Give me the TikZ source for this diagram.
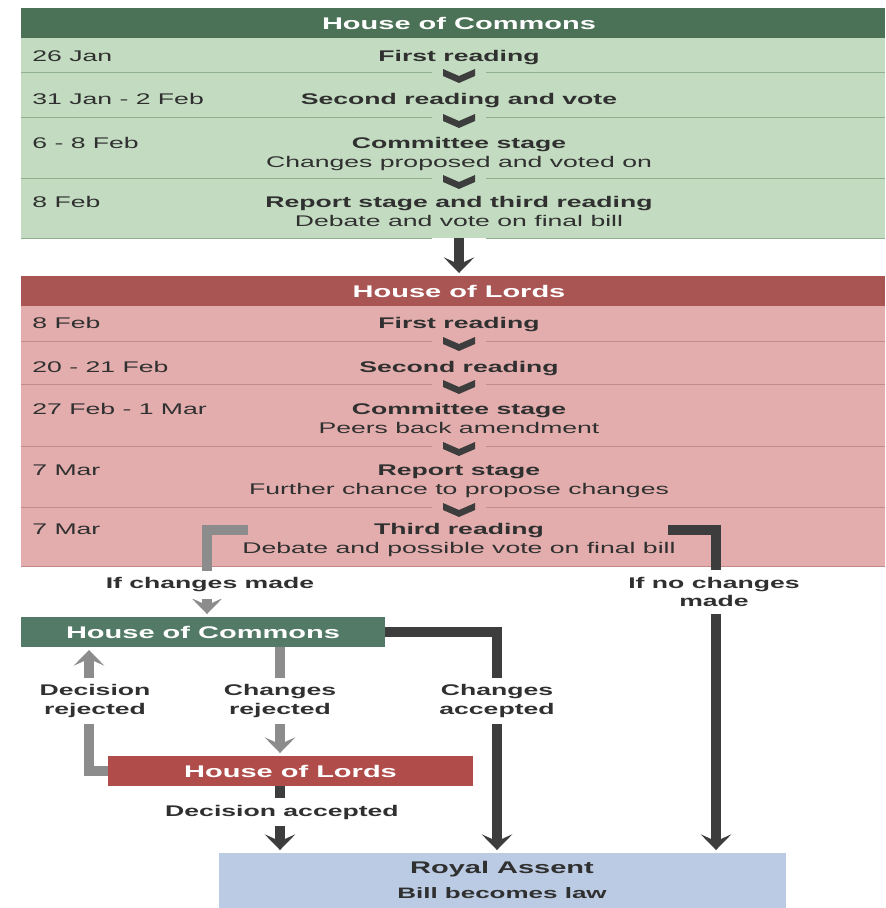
\documentclass[tikz,border=0pt]{standalone}
\usepackage{fontspec}
\setmainfont{Liberation Sans}[FakeStretch=1.72]
\usepackage{xcolor}
\usepackage{tikz}
\usetikzlibrary{calc}
\usetikzlibrary{arrows.meta}

\definecolor{commonsdark}{HTML}{4B7257}
\definecolor{commonslight}{HTML}{C3DCC1}
\definecolor{commonsrule}{HTML}{8FAF8F}
\definecolor{commonsbox}{HTML}{527A66}
\definecolor{lordsdark}{HTML}{A95553}
\definecolor{lordslight}{HTML}{E3ADAD}
\definecolor{lordsrule}{HTML}{C48A8A}
\definecolor{lordsbox}{HTML}{B04C4A}
\definecolor{assent}{HTML}{BACBE3}
\definecolor{arrowdark}{HTML}{3D3D3D}
\definecolor{arrowgrey}{HTML}{8C8C8C}
\definecolor{ink}{HTML}{303030}

\begin{document}
\begin{tikzpicture}[x=0.02cm,y=-0.02cm]%%passage of the bill
                \tikzstyle{date}   = [anchor=west, inner sep=0pt, text=ink, font=\fontsize{8.8}{10.5}\selectfont, text height=6.3pt, text depth=0pt]
                \tikzstyle{stage}  = [inner sep=0pt, text=ink, font=\bfseries\fontsize{8.8}{10.5}\selectfont, text height=6.3pt, text depth=0pt]
                \tikzstyle{detail} = [stage, font=\fontsize{8.8}{10.5}\selectfont]
                \tikzstyle{house}  = [inner sep=0pt, text=white, font=\bfseries\fontsize{9.6}{11.5}\selectfont, text height=6.9pt, text depth=0pt]
                \tikzstyle{band}   = [inner sep=0pt, minimum width=17.28cm]
                \tikzstyle{box}    = [house, minimum height=0.6cm]
                \tikzstyle{cond}   = [fill=white, inner xsep=3pt, inner ysep=4pt, align=center, text=ink, font=\bfseries\fontsize{8.8}{10.5}\selectfont]
                \tikzstyle{flow}   = [line width=5.7pt, line join=miter, shorten >=1.5pt, -{Stealth[length=9pt, width=17.6pt, inset=4pt, line width=0pt]}]

                \fill [white] (0,0) rectangle (885,908);
                \useasboundingbox (0,0) rectangle (885,908);

                \node [band, fill=commonsdark, minimum height=0.6cm](commons) at (453,23) {};
                \node [band, fill=commonslight, minimum height=4cm](cbody) at (453,138) {};
                \node [house](hc) at (459,23) {House of Commons};
                \foreach \y in {72,117,178,238}{
                        \draw [commonsrule] (21,\y)--(432,\y) (486,\y)--(885,\y);
                }
                \foreach \y in {72,117,178}{
                        \fill [arrowdark] (443,\y-3)--(459,\y+4)--(475,\y-3)--(475,\y+4)--(459,\y+11)--(443,\y+4)--cycle;
                }
                \foreach \y/\d in {56/26 Jan, 99/31 Jan - 2 Feb, 143/6 - 8 Feb, 202/8 Feb}{
                        \node [date](cd\y) at (32,\y) {\d};
                }
                \node [stage](cs1) at (459,56) {First reading};
                \node [stage](cs2) at (459,99) {Second reading and vote};
                \node [stage](cs3) at (459,143) {Committee stage};
                \node [detail](ct3) at (459,162) {Changes proposed and voted on};
                \node [stage](cs4) at (459,202) {Report stage and third reading};
                \node [detail](ct4) at (459,221) {Debate and vote on final bill};

                \node [band, fill=lordsdark, minimum height=0.6cm](lords) at (453,291) {};
                \node [band, fill=lordslight, minimum height=5.2cm](lbody) at (453,436) {};
                \node [house](hl) at (459,291) {House of Lords};
                \foreach \y in {341,384,446,507}{
                        \draw [lordsrule] (21,\y)--(432,\y) (486,\y)--(885,\y);
                        \fill [arrowdark] (443,\y-4)--(459,\y+3)--(475,\y-4)--(475,\y+3)--(459,\y+10)--(443,\y+3)--cycle;
                }
                \draw [lordsrule] (21,566)--(885,566);
                \foreach \y/\d in {323/8 Feb, 367/20 - 21 Feb, 409/27 Feb - 1 Mar, 470/7 Mar, 529/7 Mar}{
                        \node [date](ld\y) at (32,\y) {\d};
                }
                \node [stage](ls1) at (459,323) {First reading};
                \node [stage](ls2) at (459,367) {Second reading};
                \node [stage](ls3) at (459,409) {Committee stage};
                \node [detail](lt3) at (459,428) {Peers back amendment};
                \node [stage](ls4) at (459,470) {Report stage};
                \node [detail](lt4) at (459,489) {Further chance to propose changes};
                \node [stage](ls5) at (459,529) {Third reading};
                \node [detail](lt5) at (459,548) {Debate and possible vote on final bill};

                \draw [flow, arrowdark] (cbody.south -| hc)--(lords.north -| hc);

                \node [box, fill=commonsbox, minimum width=7.28cm](hc2) at (203,632) {House of Commons};
                \node [box, fill=lordsbox, minimum width=7.3cm](hl2) at (290.5,771) {House of Lords};
                \node [fill=assent, minimum width=11.34cm, minimum height=1.1cm, inner sep=0pt](ra) at (502.5,880.5) {};
                \node [stage, font=\bfseries\fontsize{9.6}{11.5}\selectfont](ra1) at (502,868) {Royal Assent};
                \node [stage, font=\bfseries\fontsize{8.6}{10.5}\selectfont](ra2) at (502,893) {Bill becomes law};

                \coordinate (ltr) at (248,530);
                \coordinate (rtr) at (668,530);
                \coordinate (xa) at (89,0);
                \coordinate (xb) at (207,0);
                \coordinate (xc) at (280,0);
                \coordinate (xd) at (497,0);
                \coordinate (xe) at (716,0);

                \draw [flow, arrowgrey] (ltr) -| (hc2.north -| xb);
                \draw [flow, arrowdark] (rtr) -| (ra.north -| xe);
                \draw [flow, arrowdark] (hc2.east) -| (ra.north -| xd);
                \draw [flow, arrowgrey] (hc2.south -| xc)--(hl2.north -| xc);
                \draw [flow, arrowgrey] (hl2.west) -| (hc2.south -| xa);
                \draw [flow, arrowdark] (hl2.south -| xc)--(ra.north -| xc);

                \node [cond](q1) at (210,585) {If changes made};
                \node [cond](q2) at (714,592) {If no changes\\made};
                \node [cond](q3) at (95,701) {Decision\\rejected};
                \node [cond](q4) at (280,701) {Changes\\rejected};
                \node [cond](q5) at (497,701) {Changes\\accepted};
                \node [cond](q6) at (282,812) {Decision accepted};
\end{tikzpicture}
\end{document}
